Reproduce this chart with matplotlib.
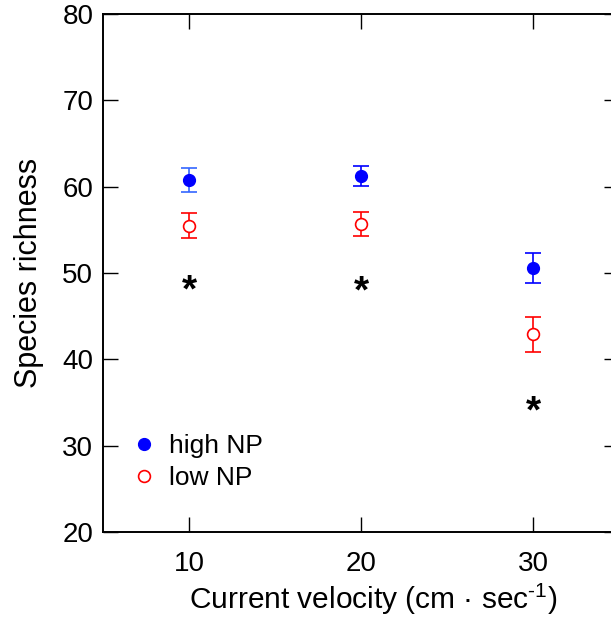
import matplotlib
matplotlib.use("Agg")
import matplotlib.pyplot as plt

plt.rcParams['font.family'] = ['Liberation Sans', 'DejaVu Sans']
plt.rcParams['mathtext.fontset'] = 'custom'
plt.rcParams['mathtext.rm'] = 'Liberation Sans'

velocity = [10, 20, 30]
high_np = [60.8, 61.2, 50.6]
high_err = [1.4, 1.15, 1.75]
low_np = [55.5, 55.7, 42.9]
low_err = [1.5, 1.4, 2.0]
star_y = [48.8, 48.6, 34.7]

fig = plt.figure(figsize=(6.11, 6.21), dpi=100)
# axes runs a little past the right edge of the picture
ax = fig.add_axes([103/611, 1 - 532/621, 516/611, 518/621])

# first bar of high NP is drawn a bit lighter in the original
bar_blue = ['#3366ff', '#0000ff', '#0000ff']
for x, y, e, c in zip(velocity, high_np, high_err, bar_blue):
    ax.errorbar(x, y, yerr=e, fmt='none', ecolor=c, elinewidth=1.2, capsize=5.5, capthick=1.2)
ax.plot(velocity, high_np, 'o', color='#0000ff', ms=8.5, label='high NP')
ax.errorbar(velocity, low_np, yerr=low_err, fmt='none', ecolor='#ff0000',
            elinewidth=1.2, capsize=5.5, capthick=1.2)
ax.plot(velocity, low_np, 'o', mfc='white', mec='#ff0000', mew=1.2, ms=8.5, label='low NP')

for x, y in zip(velocity, star_y):
    ax.text(x, y - 0.9, '*', fontsize=28, fontweight='bold', ha='center', va='center')

ax.set_xlim(5, 35)
ax.set_ylim(20, 80)
ax.set_xticks(velocity)
ax.set_yticks([20, 30, 40, 50, 60, 70, 80])
ax.tick_params(direction='in', length=11, width=1, labelsize=20, top=True, right=True)
ax.tick_params(axis='x', pad=14)
ax.tick_params(axis='y', pad=7)
for s in ax.spines.values():
    s.set_linewidth(1.4)

ax.set_xlabel('Current velocity (cm \u00b7 sec$^{\\mathrm{\u2010}1}$)', fontsize=21.5, labelpad=4)
ax.xaxis.set_label_coords(0.523, -0.095)
ax.set_ylabel('Species richness', fontsize=22, labelpad=13)

ax.legend(loc='upper left', bbox_to_anchor=(0.028, 0.215), frameon=False, fontsize=19,
          handlelength=1.0, handletextpad=0.45, labelspacing=0.3, borderpad=0)

fig.savefig('out.png', dpi=100)
